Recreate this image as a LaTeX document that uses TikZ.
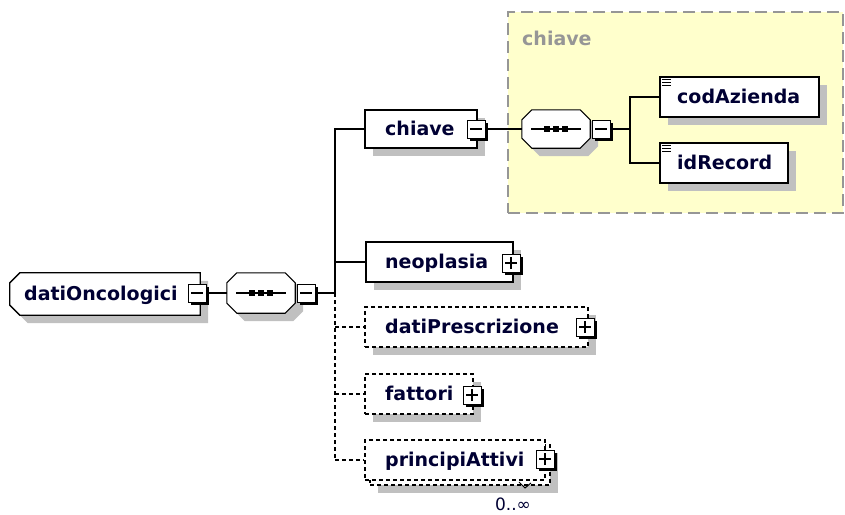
\documentclass[tikz,border=0pt]{standalone}
\usepackage{fontspec}
\setmainfont{DejaVu Sans}
\usetikzlibrary{shadows,calc}
\definecolor{shd}{RGB}{192,192,192}
\definecolor{ylw}{RGB}{255,255,204}
\definecolor{ygray}{RGB}{150,150,150}
\definecolor{txtc}{RGB}{0,0,51}
\tikzset{
 lbl/.style={anchor=base west, font=\fontsize{19}{21}\selectfont\bfseries, text=txtc, inner sep=0},
 elbox/.style={draw, line width=1.4pt, fill=white, inner sep=0, minimum height=40pt,
   general shadow={fill=shd, shadow xshift=8pt, shadow yshift=-8pt}},
 optbox/.style={elbox, dash pattern=on 4pt off 3pt},
 tog/.style={draw, line width=1pt, fill=white, inner sep=0, minimum size=18pt,
   general shadow={fill=black, shadow xshift=3pt, shadow yshift=-3pt}},
 area/.style={inner sep=0, draw=none},
 conn/.style={line width=1.3pt},
 dconn/.style={conn, dash pattern=on 4pt off 3pt},
}
\newcommand{\octo}[4]{\path[#4] ([xshift=#2+10pt,yshift=#3]#1.north west) -- ([xshift=#2-10pt,yshift=#3]#1.north east) -- ([xshift=#2,yshift=#3-10pt]#1.north east) -- ([xshift=#2,yshift=#3+10pt]#1.south east) -- ([xshift=#2-10pt,yshift=#3]#1.south east) -- ([xshift=#2+10pt,yshift=#3]#1.south west) -- ([xshift=#2,yshift=#3+10pt]#1.south west) -- ([xshift=#2,yshift=#3-10pt]#1.north west) -- cycle;}
\newcommand{\lchamf}[4]{\path[#4] ([xshift=#2+10pt,yshift=#3]#1.north west) -- ([xshift=#2,yshift=#3]#1.north east) -- ([xshift=#2,yshift=#3]#1.south east) -- ([xshift=#2+10pt,yshift=#3]#1.south west) -- ([xshift=#2,yshift=#3+10pt]#1.south west) -- ([xshift=#2,yshift=#3-10pt]#1.north west) -- cycle;}
\newcommand{\tminus}[1]{\draw[line width=1.2pt] ([xshift=-6pt]#1.center) -- ([xshift=6pt]#1.center);}
\newcommand{\tplus}[1]{\tminus{#1}\draw[line width=1.2pt] ([yshift=-6pt]#1.center) -- ([yshift=6pt]#1.center);}
\newcommand{\seqsym}[1]{\draw[line width=1.2pt] ([xshift=-25pt]#1.center) -- ([xshift=25pt]#1.center);
  \foreach \d in {-9,0,9} {\fill ([xshift=\d pt]#1.center) +(-2.8,-2.8) rectangle +(2.8,2.8);}}
\newcommand{\elicon}[1]{\foreach \k in {3,6,9} {\draw[line width=1.1pt] ([xshift=3pt,yshift=-\k pt]#1.north west) -- ++(9,0);}}
\begin{document}
\begin{tikzpicture}[x=1pt,y=-1pt]
\useasboundingbox[fill=white] (0,0) rectangle (845,514);
% group
\node[draw=ygray, fill=ylw, dash pattern=on 12pt off 6pt, line width=2pt, inner sep=0,
  minimum width=335pt, minimum height=201pt] (grp) at (675.5,112.5) {};
\node[lbl, text=ygray] (grpl) at (522,45) {chiave};
% compositor areas
\node[area, minimum width=190pt, minimum height=42pt] (dO) at (105,294) {};
\node[area, minimum width=68pt, minimum height=40pt] (s1) at (261,293) {};
\node[area, minimum width=68pt, minimum height=38pt] (s2) at (556,129) {};
\lchamf{dO}{8pt}{-8pt}{fill=shd}
\lchamf{dO}{0pt}{0pt}{draw, fill=white, line width=1.3pt}
\octo{s1}{8pt}{-8pt}{fill=shd}
\octo{s1}{0pt}{0pt}{draw, fill=white, line width=1.1pt}
\seqsym{s1}
\octo{s2}{8pt}{-8pt}{fill=shd}
\octo{s2}{0pt}{0pt}{draw, fill=white, line width=1.1pt}
\seqsym{s2}
% element boxes
\node[elbox, minimum width=112pt, minimum height=38pt] (ch) at (421,129) {};
\node[elbox, minimum width=159pt] (cod) at (739.5,97) {};
\node[elbox, minimum width=128pt] (idr) at (724,163) {};
\node[elbox, minimum width=147pt] (neo) at (439.5,262) {};
\node[optbox, minimum width=223pt] (pres) at (476.5,327) {};
\node[optbox, minimum width=108pt] (fat) at (419,394) {};
\node[optbox, minimum width=180pt] (pab) at (460,465) {};
\node[draw, line width=1.4pt, fill=white, inner sep=0, minimum height=40pt, minimum width=180pt,
  dash pattern=on 4pt off 3pt] (pa) at (455,460) {};
\draw[line width=1pt] (519,482) -- (525,488) -- (531,483);
\elicon{cod}
\elicon{idr}
% toggles
\node[tog] (t0) at (197,293) {}; \tminus{t0}
\node[tog] (ts1) at (306,293) {}; \tminus{ts1}
\node[tog] (tch) at (476,129) {}; \tminus{tch}
\node[tog] (ts2) at (601,129) {}; \tminus{ts2}
\node[tog] (tneo) at (511,263) {}; \tplus{tneo}
\node[tog] (tpres) at (585,327) {}; \tplus{tpres}
\node[tog] (tfat) at (472,395) {}; \tplus{tfat}
\node[tog] (tpa) at (545,459) {}; \tplus{tpa}
% connectors
\coordinate (j) at (335,293);
\coordinate (j2) at (630,129);
\draw[conn] (t0.east) -- (s1.west);
\draw[conn] (ts1.east) -- (j);
\draw[conn] (j) |- (ch.west);
\draw[conn] (j) |- (neo.west);
\draw[dconn] (j) -- (j |- pa.west);
\draw[dconn] (j |- pres.west) -- (pres.west);
\draw[dconn] (j |- fat.west) -- (fat.west);
\draw[dconn] (j |- pa.west) -- (pa.west);
\draw[conn] (tch.east) -- (s2.west);
\draw[conn] (ts2.east) -- (j2);
\draw[conn] (j2) |- (cod.west);
\draw[conn] (j2) |- (idr.west);
% labels
\node[lbl] (dOl) at (24,300) {datiOncologici};
\node[lbl] (chl) at (385,135) {chiave};
\node[lbl] (codl) at (677,103) {codAzienda};
\node[lbl] (idrl) at (677,169) {idRecord};
\node[lbl] (neol) at (385,268) {neoplasia};
\node[lbl] (presl) at (385,333) {datiPrescrizione};
\node[lbl] (fatl) at (385,400) {fattori};
\node[lbl] (pal) at (385,466) {principiAttivi};
\node[anchor=base, inner sep=0, font=\fontsize{17}{19}\selectfont, text=txtc] (mult) at (513,510) {0..∞};
\end{tikzpicture}
\end{document}
